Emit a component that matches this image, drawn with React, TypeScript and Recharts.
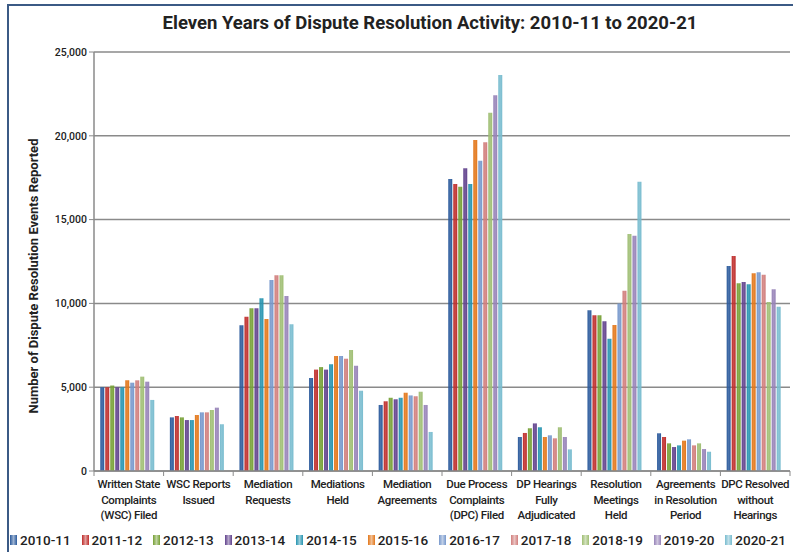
import { BarChart, Bar, XAxis, YAxis, CartesianGrid } from 'recharts';

const FONT = 'Roboto, "Liberation Sans", sans-serif';

const categories = [
  'Written State\nComplaints\n(WSC) Filed',
  'WSC Reports\nIssued',
  'Mediation\nRequests',
  'Mediations\nHeld',
  'Mediation\nAgreements',
  'Due Process\nComplaints\n(DPC) Filed',
  'DP Hearings\nFully\nAdjudicated',
  'Resolution\nMeetings\nHeld',
  'Agreements\nin Resolution\nPeriod',
  'DPC Resolved\nwithout\nHearings',
];

const years = ['2010-11', '2011-12', '2012-13', '2013-14', '2014-15', '2015-16', '2016-17', '2017-18', '2018-19', '2019-20', '2020-21'];

const yearColors = ['#2b5a9c', '#bf2d2b', '#76a035', '#61428d', '#2694b0', '#e3771a', '#7798cc', '#d17e7c', '#9fbe73', '#9783b8', '#78bccf'];

// one list per year, in category order
const v2010_11 = [5000, 3200, 8690, 5550, 3940, 17420, 2030, 9590, 2250, 12230];
const v2011_12 = [5000, 3280, 9210, 6050, 4160, 17120, 2270, 9290, 2030, 12830];
const v2012_13 = [5100, 3200, 9710, 6200, 4370, 16960, 2550, 9290, 1650, 11200];
const v2013_14 = [5000, 3040, 9710, 6050, 4280, 18060, 2840, 8930, 1430, 11280];
const v2014_15 = [5000, 3040, 10300, 6370, 4370, 17120, 2610, 7890, 1530, 11140];
const v2015_16 = [5410, 3340, 9070, 6860, 4670, 19750, 2030, 8710, 1810, 11800];
const v2016_17 = [5270, 3500, 11400, 6860, 4510, 18510, 2130, 10000, 1890, 11860];
const v2017_18 = [5410, 3500, 11680, 6700, 4460, 19610, 1950, 10760, 1530, 11710];
const v2018_19 = [5630, 3640, 11680, 7220, 4730, 21380, 2610, 14140, 1650, 10080];
const v2019_20 = [5330, 3780, 10440, 6280, 3940, 22420, 2030, 14040, 1310, 10840];
const v2020_21 = [4240, 2790, 8750, 4790, 2330, 23630, 1290, 17260, 1150, 9800];

const seriesValues = [v2010_11, v2011_12, v2012_13, v2013_14, v2014_15, v2015_16, v2016_17, v2017_18, v2018_19, v2019_20, v2020_21];

const yTicks = [0, 5000, 10000, 15000, 20000, 25000];

const CHART_W = 793;
const Y_AXIS_W = 94;
const RIGHT_M = 3;
const band = (CHART_W - Y_AXIS_W - RIGHT_M) / categories.length;

const rows = categories.map((name, i) => {
  const row: Record<string, string | number> = { name };
  years.forEach((y, s) => {
    row[y] = seriesValues[s][i];
  });
  return row;
});

const CategoryTick = ({ x, y, payload, index }: { x?: number; y?: number; payload?: { value: string }; index?: number }) => {
  const lines = String(payload?.value ?? '').split('\n');
  const cx = x ?? 0;
  const ty = y ?? 0;
  return (
    <g>
      <line x1={cx - band / 2} x2={cx - band / 2} y1={ty - 8} y2={ty - 3} stroke="#8a8a8a" />
      {index === categories.length - 1 && <line x1={cx + band / 2} x2={cx + band / 2} y1={ty - 8} y2={ty - 3} stroke="#8a8a8a" />}
      <text x={cx} y={ty + 9} textAnchor="middle" fontFamily={FONT} fontSize={11.5} fontWeight={500} letterSpacing={-0.35} fill="#222">
        {lines.map((l, i) => (
          <tspan key={i} x={cx} dy={i === 0 ? 0 : 15.5}>
            {l}
          </tspan>
        ))}
      </text>
    </g>
  );
};

const YearLegend = () => (
  <div style={{ position: 'absolute', left: 10, top: 532, width: 776, display: 'flex', justifyContent: 'space-between', whiteSpace: 'nowrap', fontFamily: FONT, fontSize: 13.5, fontWeight: 500, color: '#222' }}>
    {years.map((y, i) => (
      <span key={y} style={{ display: 'flex', alignItems: 'center' }}>
        <span style={{ display: 'inline-block', width: 7, height: 10, marginRight: 3, background: `linear-gradient(to right, ${yearColors[i]}, #ffffff88, ${yearColors[i]})`, backgroundColor: yearColors[i] }} />
        {y}
      </span>
    ))}
  </div>
);

export default function App() {
  return (
    <div style={{ position: 'fixed', left: 0, top: 0, width: 793, height: 552, background: '#fff', overflow: 'hidden' }}>
      <div style={{ position: 'absolute', left: 7, top: 4, width: 820, height: 600, borderLeft: '2px solid #3b5a85', borderTop: '2px solid #3b5a85' }} />
      <div style={{ position: 'absolute', left: 0, top: 12, width: 860, textAlign: 'center', fontFamily: FONT, fontSize: 18.5, fontWeight: 'bold', color: '#222' }}>
        Eleven Years of Dispute Resolution Activity: 2010-11 to 2020-21
      </div>
      <div style={{ position: 'absolute', left: 33, top: 276, transform: 'translate(-50%, -50%) rotate(-90deg)', whiteSpace: 'nowrap', fontFamily: FONT, fontSize: 13, fontWeight: 'bold', color: '#222' }}>
        Number of Dispute Resolution Events Reported
      </div>
      <div style={{ position: 'absolute', left: 0, top: 0 }}>
        <BarChart width={CHART_W} height={552} data={rows} margin={{ top: 52, right: RIGHT_M, left: 0, bottom: 0 }} barCategoryGap="9%" barGap={1}>
          <defs>
            {yearColors.map((c, i) => (
              <linearGradient key={i} id={`g${i}`} x1="0" y1="0" x2="1" y2="0">
                <stop offset="0%" stopColor={c} />
                <stop offset="45%" stopColor={c} stopOpacity={0.85} />
                <stop offset="100%" stopColor={c} />
              </linearGradient>
            ))}
          </defs>
          <CartesianGrid vertical={false} stroke="#8a8a8a" strokeWidth={1.5} />
          <XAxis dataKey="name" interval={0} tick={<CategoryTick />} tickLine={false} axisLine={{ stroke: '#8a8a8a', strokeWidth: 1.5 }} height={81} />
          <YAxis
            domain={[0, 25000]}
            ticks={yTicks}
            width={Y_AXIS_W}
            tickFormatter={(v: number) => v.toLocaleString('en-US')}
            tick={{ fontFamily: FONT, fontSize: 10.5, fill: '#222', fontWeight: 500 }}
            tickLine={{ stroke: '#8a8a8a' }}
            tickSize={5}
            axisLine={{ stroke: '#8a8a8a', strokeWidth: 1.5 }}
          />
          {years.map((y, i) => (
            <Bar key={y} dataKey={y} fill={`url(#g${i})`} isAnimationActive={false} />
          ))}
        </BarChart>
      </div>
      <YearLegend />
    </div>
  );
}
